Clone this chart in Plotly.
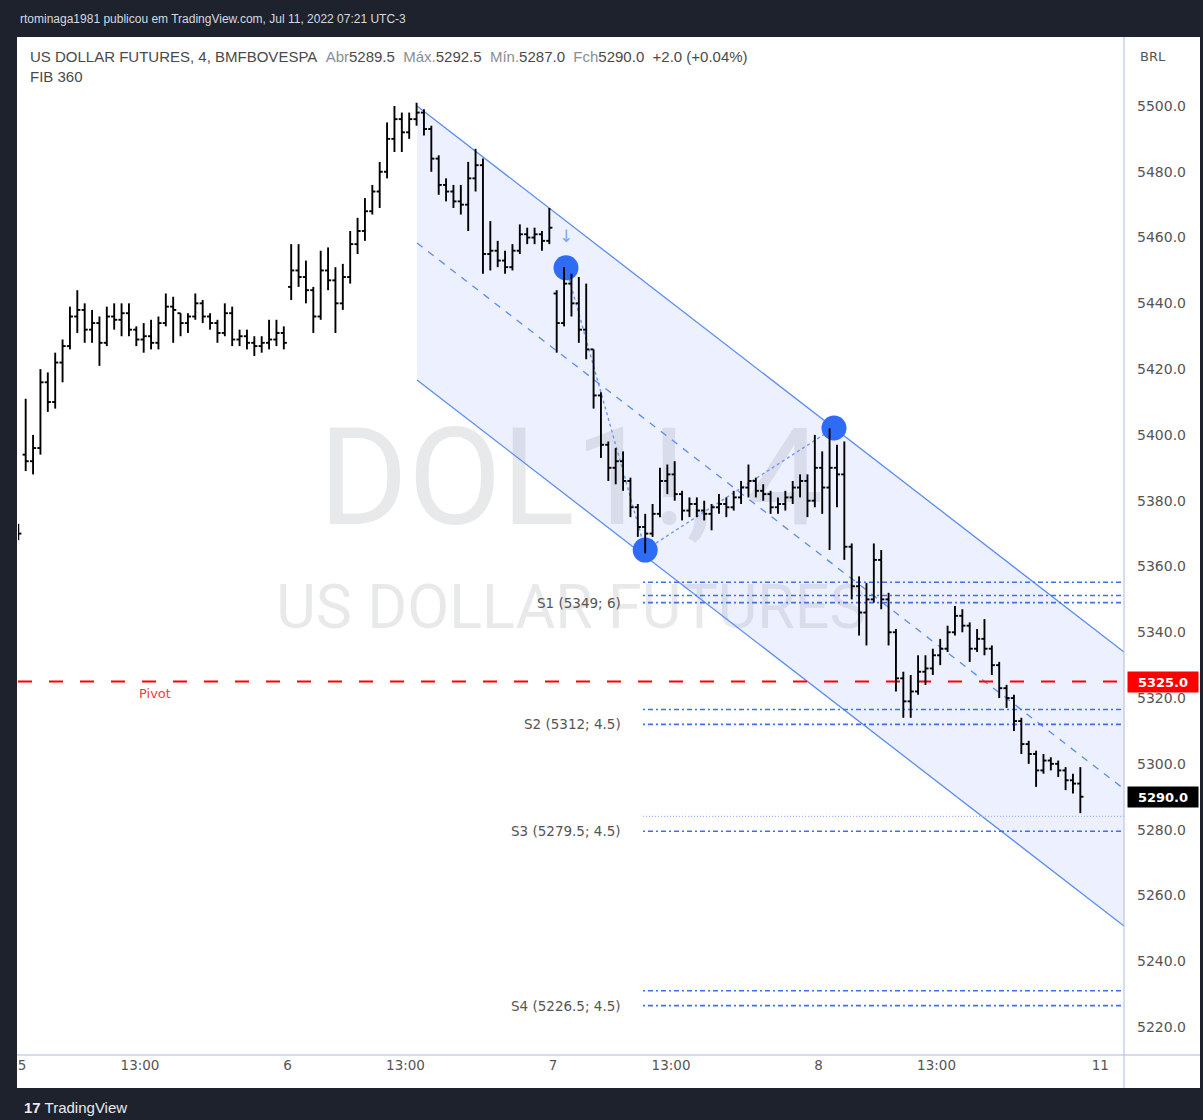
import plotly.graph_objects as go

# ---------------- DATA (15-minute bars, index = slot since Jul 5 09:00) ----------------
prev_bar = dict(o=5371, h=5373, l=5368, c=5370)

open_jul05 = [5394,5392,5396,5416,5410,5422,5427,5436,5438,5432,5434,5428,5436,5435,5437,5432,5429,5430,
              5428,5434,5439,5437,5434,5436,5440,5436,5434,5431,5437,5429,5430,5428,5427,5428,5429,5431]
high_jul05 = [5411,5400,5420,5419,5425,5429,5439,5444,5440,5438,5436,5439,5440,5440,5440,5433,5434,5435,
              5436,5443,5442,5437,5437,5443,5441,5437,5435,5440,5439,5432,5432,5430,5430,5435,5435,5433]
low_jul05  = [5389,5388,5394,5407,5408,5416,5426,5431,5428,5428,5421,5427,5432,5430,5430,5427,5425,5426,
              5426,5433,5428,5430,5431,5435,5434,5432,5428,5430,5427,5427,5426,5424,5425,5426,5427,5426]
close_jul05= [5392,5396,5416,5410,5422,5427,5436,5438,5432,5434,5428,5436,5435,5437,5432,5429,5430,5428,
              5434,5439,5438,5434,5436,5440,5436,5434,5431,5437,5429,5430,5428,5427,5428,5429,5431,5428]

open_jul06 = [5445,5450,5448,5444,5436,5450,5447,5440,5448,5458,5462,5468,5474,5480,5490,5496,5492,5496,
              5498,5493,5484,5476,5474,5471,5470,5478,5482,5455,5456,5453,5451,5456,5461,5460,5461,5459]
high_jul06 = [5458,5458,5453,5445,5456,5457,5451,5452,5462,5466,5472,5476,5483,5495,5500,5498,5498,5501,
              5499,5494,5485,5478,5476,5476,5483,5487,5484,5465,5459,5456,5458,5464,5463,5463,5462,5469]
low_jul06  = [5441,5445,5440,5431,5435,5444,5431,5438,5446,5455,5459,5467,5469,5478,5486,5486,5490,5494,
              5491,5480,5473,5471,5469,5467,5462,5474,5449,5450,5451,5449,5450,5455,5458,5458,5456,5458]
close_jul06= [5450,5448,5444,5436,5450,5447,5440,5448,5458,5462,5468,5474,5480,5490,5496,5492,5496,5498,
              5493,5484,5476,5474,5471,5470,5478,5482,5455,5456,5453,5451,5456,5461,5460,5461,5459,5463]

open_jul07 = [5443,5434,5446,5440,5432,5426,5412,5397,5390,5392,5386,5378,5372,5370,5376,5386,5388,5382,
              5377,5379,5377,5376,5378,5379,5378,5381,5384,5386,5383,5382,5378,5379,5381,5384,5386,5380]
high_jul07 = [5444,5451,5449,5448,5446,5426,5413,5398,5396,5395,5387,5379,5376,5379,5390,5391,5392,5383,
              5381,5381,5380,5379,5382,5381,5383,5386,5391,5387,5385,5383,5381,5383,5386,5388,5388,5400]
low_jul07  = [5425,5433,5436,5428,5423,5408,5393,5386,5385,5383,5375,5369,5364,5369,5375,5382,5380,5374,
              5375,5375,5374,5371,5376,5375,5377,5379,5381,5381,5380,5376,5376,5377,5379,5381,5375,5378]
close_jul07= [5434,5446,5440,5432,5426,5412,5397,5390,5392,5386,5378,5372,5370,5376,5386,5388,5382,5377,
              5379,5377,5376,5378,5379,5378,5381,5384,5386,5383,5382,5378,5379,5381,5384,5386,5380,5390]

open_jul08 = [5390,5384,5390,5388,5366,5354,5346,5350,5362,5350,5340,5326,5319,5322,5328,5329,5333,5335,
              5340,5345,5342,5335,5338,5335,5330,5323,5320,5313,5306,5303,5298,5301,5300,5298,5295,5294]
high_jul08 = [5395,5402,5397,5398,5367,5357,5355,5367,5365,5352,5341,5328,5327,5333,5333,5335,5338,5342,
              5348,5347,5343,5341,5344,5336,5331,5324,5321,5314,5307,5304,5303,5302,5301,5299,5297,5299]
low_jul08  = [5376,5365,5378,5362,5350,5339,5336,5349,5347,5336,5322,5314,5314,5321,5324,5327,5330,5334,
              5339,5340,5331,5334,5333,5327,5320,5317,5310,5303,5300,5293,5297,5298,5296,5292,5291,5285]
close_jul08= [5384,5390,5388,5366,5354,5346,5350,5362,5350,5340,5326,5319,5322,5328,5329,5333,5335,5340,
              5345,5342,5335,5338,5335,5330,5323,5320,5313,5306,5303,5298,5301,5300,5298,5295,5294,5290]

# x-axis labels (bar-slot positions of session starts / 13:00)
tick_labels = ["5", "13:00", "6", "13:00", "7", "13:00", "8", "13:00", "11"]
tick_slots = [-0.5, 15.5, 35.5, 51.5, 71.5, 87.5, 107.5, 123.5, 145.7]

# price-axis labels
price_ticks = [5220, 5240, 5260, 5280, 5300, 5320, 5340, 5360, 5380, 5400, 5420, 5440, 5460, 5480, 5500]

# drawing-tool anchors (slot, price)
channel_x = [53.06, 148.92]
channel_upper = [5500.0, 5334.0]
channel_lower = [5416.7, 5250.7]
pivot_x = [73.26, 84.0, 109.6]
pivot_y = [5450.8, 5365.0, 5402.1]

pivot_level = 5325.0
supports = [("S1 (5349; 6)", 5349.0, [5355.2, 5351.2, 5349.0]),
            ("S2 (5312; 4.5)", 5312.0, [5316.5, 5312.0]),
            ("S3 (5279.5; 4.5)", 5279.5, [5279.5]),
            ("S4 (5226.5; 4.5)", 5226.5, [5231.0, 5226.5])]
s3_faint = 5284.0
support_start = 83.7

last_close = close_jul08[-1]

# ---------------- BUILD ----------------
opens = [prev_bar["o"]] + open_jul05 + open_jul06 + open_jul07 + open_jul08
highs = [prev_bar["h"]] + high_jul05 + high_jul06 + high_jul07 + high_jul08
lows = [prev_bar["l"]] + low_jul05 + low_jul06 + low_jul07 + low_jul08
closes = [prev_bar["c"]] + close_jul05 + close_jul06 + close_jul07 + close_jul08
slots = list(range(-1, len(opens) - 1))

x_range = [-1.042, 148.92]
y_range = [5211.48, 5520.67]

bx, by = [], []
tw = 0.42
for x, o, h, l, c in zip(slots, opens, highs, lows, closes):
    bx += [x, x, None, x - tw, x, None, x, x + tw, None]
    by += [l, h, None, o, o, None, c, c, None]

fig = go.Figure()

# watermark (drawn first so it stays behind)
xm = sum(x_range) / 2
fig.add_trace(go.Scatter(x=[xm, xm], y=[5383.3, 5346.0], mode="text",
                         text=["DOL1!, 4", "US DOLLAR FUTURES"],
                         textfont=dict(family="Roboto", size=[136, 61], color="rgba(42,46,57,0.105)"),
                         hoverinfo="skip", showlegend=False))

blue = "#5B8DEF"
# channel
fig.add_trace(go.Scatter(x=channel_x, y=channel_lower, mode="lines",
                         line=dict(color=blue, width=1.3), showlegend=False, hoverinfo="skip"))
fig.add_trace(go.Scatter(x=channel_x, y=channel_upper, mode="lines", fill="tonexty",
                         fillcolor="rgba(41,98,255,0.085)",
                         line=dict(color=blue, width=1.3), showlegend=False, hoverinfo="skip"))
mid = [(a + b) / 2 for a, b in zip(channel_upper, channel_lower)]
fig.add_trace(go.Scatter(x=channel_x, y=mid, mode="lines",
                         line=dict(color=blue, width=1.3, dash="7px,7px"), showlegend=False, hoverinfo="skip"))

# support lines
sx, sy = [], []
for _, _, levels in supports:
    for lv in levels:
        sx += [support_start, x_range[1], None]
        sy += [lv, lv, None]
fig.add_trace(go.Scatter(x=sx, y=sy, mode="lines",
                         line=dict(color="#3F6FF0", width=1.6, dash="2px,3px,5px,3px"),
                         showlegend=False, hoverinfo="skip"))
fig.add_trace(go.Scatter(x=[support_start, x_range[1]], y=[s3_faint, s3_faint], mode="lines",
                         line=dict(color="#9DB6F5", width=1.2, dash="1px,2px"),
                         showlegend=False, hoverinfo="skip"))

# pivot line
fig.add_trace(go.Scatter(x=x_range, y=[pivot_level, pivot_level], mode="lines",
                         line=dict(color="#FF0000", width=2, dash="14px,17px"),
                         showlegend=False, hoverinfo="skip"))

# zigzag + dots
fig.add_trace(go.Scatter(x=pivot_x, y=pivot_y, mode="lines",
                         line=dict(color="#6F96F5", width=1.4, dash="dot"),
                         showlegend=False, hoverinfo="skip"))
fig.add_trace(go.Scatter(x=pivot_x, y=pivot_y, mode="markers",
                         marker=dict(color="#2E6BF6", size=25, line=dict(width=0)),
                         showlegend=False, hoverinfo="skip"))

# OHLC bars
fig.add_trace(go.Scatter(x=bx, y=by, mode="lines", line=dict(color="#000000", width=1.9),
                         showlegend=False, hoverinfo="skip"))

# ---------------- LAYOUT ----------------
L, R, T, B = 18, 79, 38, 65
W, H = 1203, 1120
pw, ph = W - L - R, H - T - B


def px(xp):
    return (xp - L) / pw


def py(yp):
    return (H - B - yp) / ph


shapes = [
    dict(type="rect", xref="paper", yref="paper", x0=px(17), x1=px(1200), y0=py(1088), y1=py(37),
         fillcolor="white", line=dict(width=0), layer="below"),
    dict(type="line", xref="paper", yref="paper", x0=px(17), x1=px(1200), y0=0, y1=0,
         line=dict(color="#AEB9DE", width=1)),
    dict(type="line", xref="paper", yref="paper", x0=1, x1=1, y0=py(1088), y1=py(37),
         line=dict(color="#AEB9DE", width=1)),
]

grey_lbl = "color:#8a8d96"
annotations = [
    dict(xref="paper", yref="paper", x=px(18), y=py(19), xanchor="left", yanchor="middle",
         text="rtominaga1981 publicou em TradingView.com, Jul 11, 2022 07:21 UTC-3",
         showarrow=False, font=dict(family="Liberation Sans", size=12, color="#D6D9E0")),
    dict(xref="paper", yref="paper", x=px(28), y=py(56), xanchor="left", yanchor="middle",
         text=("US DOLLAR FUTURES, 4, BMFBOVESPA&nbsp;&nbsp;<span style='%s'>Abr</span>5289.5&nbsp;&nbsp;"
               "<span style='%s'>Máx.</span>5292.5&nbsp;&nbsp;<span style='%s'>Mín.</span>5287.0&nbsp;&nbsp;"
               "<span style='%s'>Fch</span>5290.0&nbsp;&nbsp;+2.0 (+0.04%%)") % (grey_lbl, grey_lbl, grey_lbl, grey_lbl),
         showarrow=False, font=dict(family="Liberation Sans", size=15, color="#4A4A4A")),
    dict(xref="paper", yref="paper", x=px(28), y=py(76), xanchor="left", yanchor="middle",
         text="FIB 360", showarrow=False, font=dict(family="Liberation Sans", size=15, color="#4A4A4A")),
    dict(xref="paper", yref="paper", x=px(1138), y=py(56), xanchor="left", yanchor="middle",
         text="BRL", showarrow=False, font=dict(family="DejaVu Sans", size=13, color="#555555")),
    dict(xref="paper", yref="paper", x=px(22), y=py(1107), xanchor="left", yanchor="middle",
         text="<b>17</b> TradingView", showarrow=False,
         font=dict(family="Liberation Sans", size=15, color="#E8EAF0")),
    # pivot label
    dict(x=17.5, y=pivot_level, yshift=-12, text="Pivot", showarrow=False,
         font=dict(family="DejaVu Sans", size=13, color="#F03C3C")),
    # arrow
    dict(x=pivot_x[0], y=5460.5, text="↓", showarrow=False,
         font=dict(family="DejaVu Sans", size=17, color="#7EA6F7")),
    # axis price labels
    dict(xref="paper", x=px(1127), y=pivot_level, xanchor="left", yanchor="middle",
         text="<b>5325.0</b>", showarrow=False, bgcolor="#FF0000", width=68, height=18,
         font=dict(family="DejaVu Sans", size=13, color="white")),
    dict(xref="paper", x=px(1127), y=last_close, xanchor="left", yanchor="middle",
         text="<b>%.1f</b>" % last_close, showarrow=False, bgcolor="#000000", width=68, height=18,
         font=dict(family="DejaVu Sans", size=13, color="white")),
]
for label, val, _ in supports:
    annotations.append(dict(x=support_start, y=val, xanchor="right", xshift=-20, text=label,
                            showarrow=False, font=dict(family="DejaVu Sans", size=13.5, color="#555555")))

fig.update_layout(
    width=W, height=H,
    margin=dict(l=L, r=R, t=T, b=B),
    paper_bgcolor="#1E222D", plot_bgcolor="white",
    showlegend=False,
    shapes=shapes, annotations=annotations,
    xaxis=dict(range=x_range, showgrid=False, zeroline=False, showline=False,
               tickvals=tick_slots, ticktext=tick_labels, ticks="",
               tickfont=dict(family="DejaVu Sans", size=13.5, color="#555555")),
    yaxis=dict(range=y_range, side="right", showgrid=False, zeroline=False, showline=False,
               tickvals=price_ticks, ticktext=["%.1f" % v for v in price_ticks], ticks="",
               ticklabelstandoff=12,
               tickfont=dict(family="DejaVu Sans", size=14, color="#555555")),
)

fig.write_html("out.html")
